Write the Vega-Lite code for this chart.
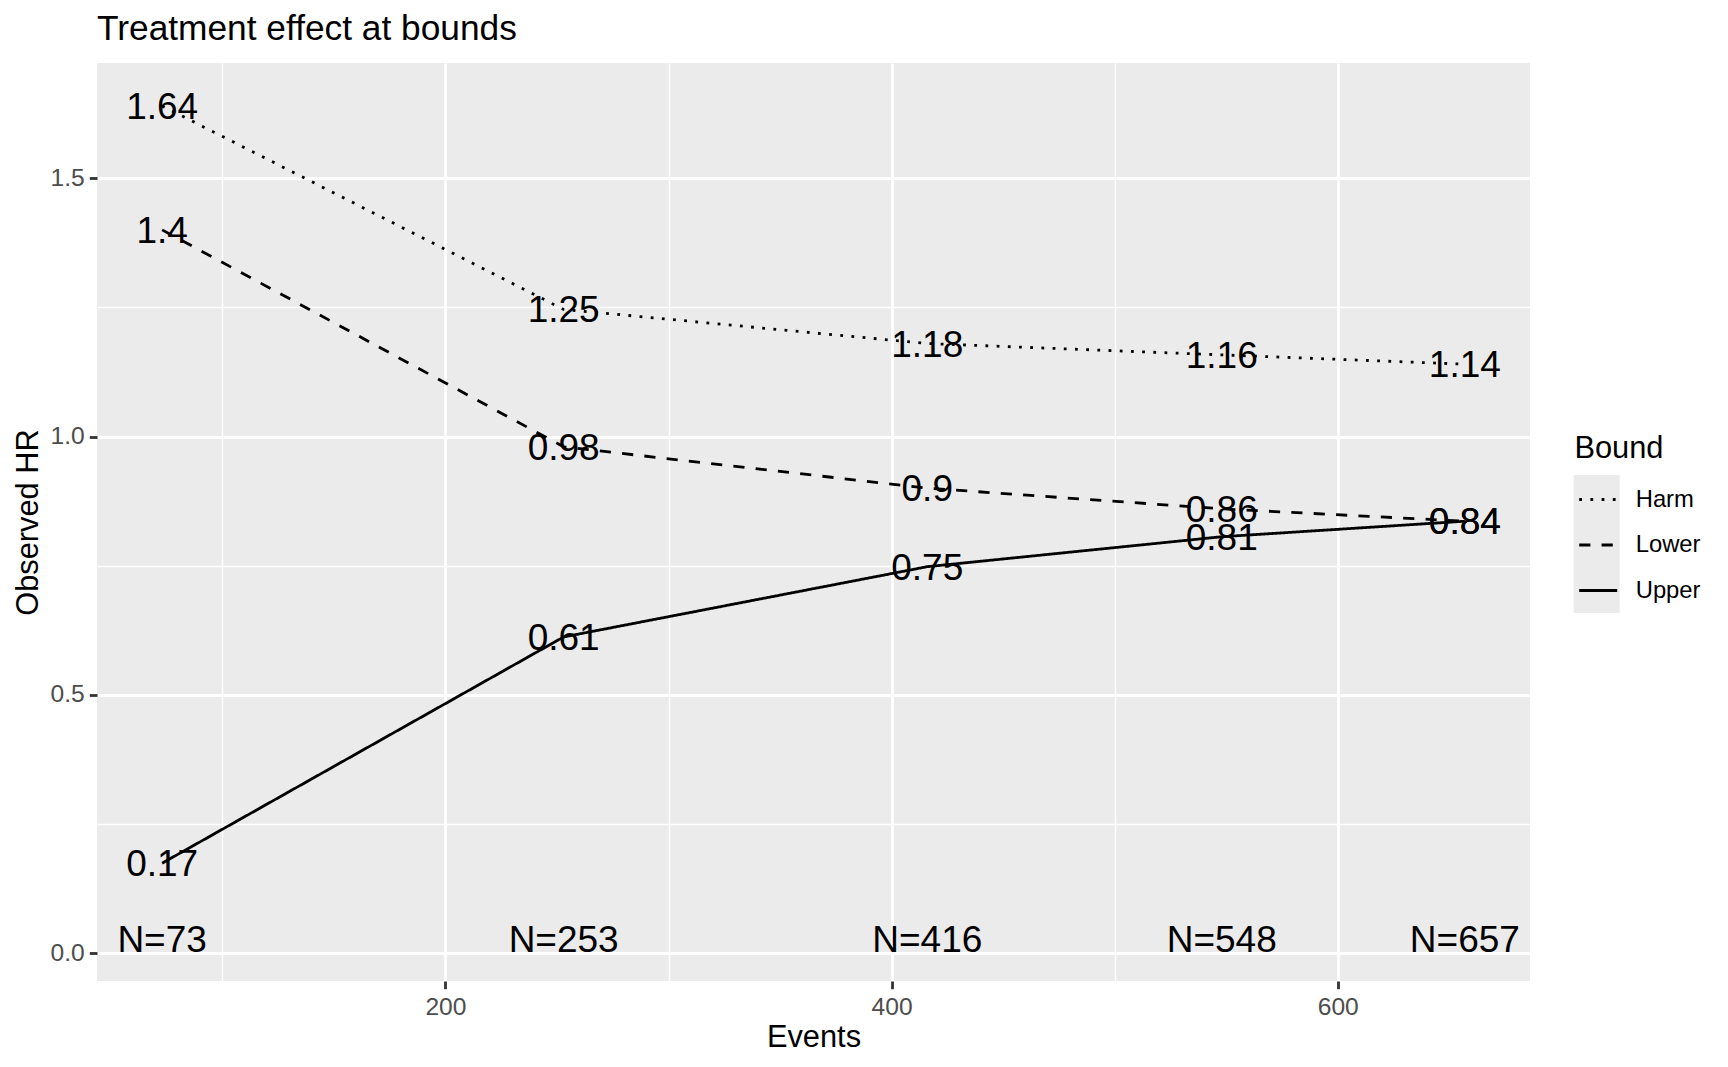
{
  "$schema": "https://vega.github.io/schema/vega-lite/v6.json",
  "width": 1433,
  "height": 918,
  "autosize": {"type": "none"},
  "padding": {"left": 97, "top": 63, "right": 198, "bottom": 86},
  "background": "white",
  "config": {
    "font": "Liberation Sans",
    "view": {"fill": "#EBEBEB", "stroke": null}
  },
  "title": {
    "text": "Treatment effect at bounds",
    "anchor": "start",
    "frame": "group",
    "fontSize": 35.3,
    "fontWeight": "normal",
    "color": "black",
    "baseline": "alphabetic",
    "offset": 22,
    "dy": 34
  },
  "datasets": {
    "bounds": [
      {"events": 73, "bound": "Harm", "hr": 1.64, "label": "1.64"},
      {"events": 253, "bound": "Harm", "hr": 1.246, "label": "1.25"},
      {"events": 416, "bound": "Harm", "hr": 1.18, "label": "1.18"},
      {"events": 548, "bound": "Harm", "hr": 1.158, "label": "1.16"},
      {"events": 657, "bound": "Harm", "hr": 1.14, "label": "1.14"},
      {"events": 73, "bound": "Lower", "hr": 1.4, "label": "1.4"},
      {"events": 253, "bound": "Lower", "hr": 0.98, "label": "0.98"},
      {"events": 416, "bound": "Lower", "hr": 0.9, "label": "0.9"},
      {"events": 548, "bound": "Lower", "hr": 0.86, "label": "0.86"},
      {"events": 657, "bound": "Lower", "hr": 0.836, "label": "0.84"},
      {"events": 73, "bound": "Upper", "hr": 0.174, "label": "0.17"},
      {"events": 253, "bound": "Upper", "hr": 0.612, "label": "0.61"},
      {"events": 416, "bound": "Upper", "hr": 0.748, "label": "0.75"},
      {"events": 548, "bound": "Upper", "hr": 0.806, "label": "0.81"},
      {"events": 657, "bound": "Upper", "hr": 0.836, "label": "0.84"}
    ],
    "counts": [
      {"events": 73, "ypos": 0.027, "label": "N=73"},
      {"events": 253, "ypos": 0.027, "label": "N=253"},
      {"events": 416, "ypos": 0.027, "label": "N=416"},
      {"events": 548, "ypos": 0.027, "label": "N=548"},
      {"events": 657, "ypos": 0.027, "label": "N=657"}
    ]
  },
  "encoding": {
    "x": {
      "field": "events",
      "type": "quantitative",
      "title": "Events",
      "scale": {"domain": [43.8, 686.2], "nice": false, "zero": false},
      "axis": {
        "values": [100, 200, 300, 400, 500, 600],
        "labelExpr": "datum.value % 200 === 0 ? datum.label : ''",
        "grid": true,
        "gridColor": "white",
        "gridWidth": {"condition": {"test": "datum.value % 200 === 0", "value": 2.8}, "value": 1.4},
        "domain": false,
        "tickColor": "#333333",
        "tickOpacity": {"condition": {"test": "datum.value % 200 === 0", "value": 1}, "value": 0},
        "tickSize": 7.7,
        "tickWidth": 2.8,
        "labelFontSize": 24.6,
        "labelColor": "#4D4D4D",
        "labelPadding": 6.3,
        "labelFlush": false,
        "titleFontSize": 30.8,
        "titleFontWeight": "normal",
        "titleColor": "black",
        "titlePadding": 3.4
      }
    }
  },
  "layer": [
    {
      "data": {"name": "bounds"},
      "mark": {"type": "square", "size": 0, "strokeWidth": 0},
      "encoding": {
        "y": {
          "field": "hr",
          "type": "quantitative",
          "title": "Observed HR",
          "scale": {"domain": [-0.054, 1.723], "nice": false, "zero": false},
          "axis": {
            "values": [0, 0.25, 0.5, 0.75, 1, 1.25, 1.5],
            "format": ".1f",
            "labelExpr": "(datum.value * 2) % 1 === 0 ? datum.label : ''",
            "grid": true,
            "gridColor": "white",
            "gridWidth": {"condition": {"test": "(datum.value * 2) % 1 === 0", "value": 2.8}, "value": 1.4},
            "domain": false,
            "tickColor": "#333333",
            "tickOpacity": {"condition": {"test": "(datum.value * 2) % 1 === 0", "value": 1}, "value": 0},
            "tickSize": 7.7,
            "tickWidth": 2.8,
            "labelFontSize": 24.6,
            "labelColor": "#4D4D4D",
            "labelPadding": 5,
            "labelFlush": false,
            "titleFontSize": 30.8,
            "titleFontWeight": "normal",
            "titleColor": "black",
            "titlePadding": 6.5
          }
        },
        "fill": {
          "field": "bound",
          "type": "nominal",
          "scale": {"domain": ["Upper", "Lower", "Harm"], "range": ["#EBEBEB", "#EBEBEB", "#EBEBEB"]},
          "legend": {
            "orient": "none",
            "legendX": 1476.7,
            "legendY": 412,
            "title": null,
            "symbolType": "square",
            "symbolSize": 2116,
            "symbolStrokeWidth": 0,
            "symbolOpacity": 1,
            "labelExpr": "''",
            "rowPadding": 0,
            "padding": 0,
            "offset": 0
          }
        }
      }
    },
    {
      "data": {"name": "bounds"},
      "mark": {"type": "line", "color": "black", "strokeWidth": 2.8},
      "encoding": {
        "y": {"field": "hr", "type": "quantitative"},
        "strokeDash": {
          "field": "bound",
          "type": "nominal",
          "scale": {"domain": ["Harm", "Lower", "Upper"], "range": [[2.8, 8.4], [11.2, 11.2], [1, 0]]},
          "legend": {
            "orient": "none",
            "legendX": 1477.4,
            "legendY": 370.7,
            "title": "Bound",
            "titleFontSize": 30.8,
            "titleFontWeight": "normal",
            "titleColor": "black",
            "titlePadding": 14.5,
            "labelFontSize": 23.8,
            "labelColor": "black",
            "labelOffset": 17,
            "symbolOffset": 3.3,
            "symbolType": "stroke",
            "symbolSize": 1444,
            "symbolStrokeWidth": 2.8,
            "symbolStrokeColor": "black",
            "rowPadding": 12.5,
            "padding": 0,
            "offset": 0
          }
        }
      }
    },
    {
      "data": {"name": "bounds"},
      "mark": {"type": "text", "fontSize": 37, "color": "black", "align": "center", "baseline": "middle", "dy": 2},
      "encoding": {
        "y": {"field": "hr", "type": "quantitative"},
        "text": {"field": "label", "type": "nominal"}
      }
    },
    {
      "data": {"name": "counts"},
      "mark": {"type": "text", "fontSize": 37, "color": "black", "align": "center", "baseline": "middle", "dy": 2},
      "encoding": {
        "y": {"field": "ypos", "type": "quantitative"},
        "text": {"field": "label", "type": "nominal"}
      }
    }
  ]
}
